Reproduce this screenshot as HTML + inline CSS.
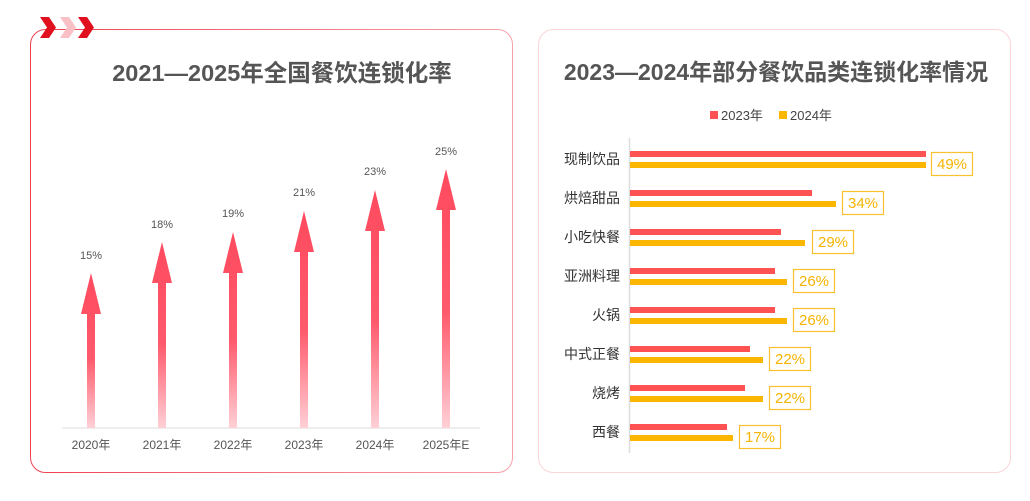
<!DOCTYPE html>
<html><head><meta charset="utf-8"><style>
html,body{margin:0;padding:0;background:#fff;width:1030px;height:501px;overflow:hidden}
text{font-family:"Liberation Sans","Noto Sans CJK SC",sans-serif}
</style></head><body>
<svg width="1030" height="501" viewBox="0 0 1030 501" xmlns="http://www.w3.org/2000/svg">
<defs>
<linearGradient id="g" x1="0" y1="0" x2="0" y2="1">
<stop offset="0" stop-color="#ff4a5e"/><stop offset="0.55" stop-color="#ff5a6c"/><stop offset="1" stop-color="#ffd0d6"/>
</linearGradient>
<linearGradient id="b1" x1="0" y1="0" x2="1" y2="0"><stop offset="0" stop-color="#f04050"/><stop offset="1" stop-color="#f7a0a8"/></linearGradient>
</defs>
<rect x="30.5" y="29.5" width="482" height="443" rx="15" fill="#fff" stroke="url(#b1)" stroke-width="1"/>
<g fill="#e0101e">
<polygon points="40,17 49,17 56,27.5 49,38 40,38 47,27.5"/>
<polygon points="60,17 69,17 76,27.5 69,38 60,38 67,27.5" fill="#f9c0c6"/>
<polygon points="78,17 87,17 94,27.5 87,38 78,38 85,27.5"/>
</g>
<text x="282" y="81" font-size="23.5" font-weight="bold" fill="#555" text-anchor="middle">2021—2025年全国餐饮连锁化率</text>
<line x1="62" y1="428" x2="480" y2="428" stroke="#ddd" stroke-width="1"/>
<g fill="url(#g)">
<g transform="translate(91,0)"><polygon points="0,273 10,314 4,314 4,428 -4,428 -4,314 -10,314"/></g>
<g transform="translate(162,0)"><polygon points="0,242 10,283 4,283 4,428 -4,428 -4,283 -10,283"/></g>
<g transform="translate(233,0)"><polygon points="0,232 10,273 4,273 4,428 -4,428 -4,273 -10,273"/></g>
<g transform="translate(304,0)"><polygon points="0,211 10,252 4,252 4,428 -4,428 -4,252 -10,252"/></g>
<g transform="translate(375,0)"><polygon points="0,190 10,231 4,231 4,428 -4,428 -4,231 -10,231"/></g>
<g transform="translate(446,0)"><polygon points="0,169 10,210 4,210 4,428 -4,428 -4,210 -10,210"/></g>
</g>
<g font-size="11" fill="#555" text-anchor="middle" font-family="Liberation Mono">
<text x="91" y="259">15%</text><text x="162" y="228">18%</text><text x="233" y="217">19%</text>
<text x="304" y="196">21%</text><text x="375" y="175">23%</text><text x="446" y="155">25%</text>
</g>
<g font-size="12" fill="#555" text-anchor="middle">
<text x="91" y="449">2020年</text><text x="162" y="449">2021年</text><text x="233" y="449">2022年</text>
<text x="304" y="449">2023年</text><text x="375" y="449">2024年</text><text x="446" y="449">2025年E</text>
</g>
<rect x="538.5" y="29.5" width="472" height="443" rx="15" fill="#fff" stroke="#fbd5d8" stroke-width="1"/>
<text x="776" y="80" font-size="23" font-weight="bold" fill="#555" text-anchor="middle">2023—2024年部分餐饮品类连锁化率情况</text>
<rect x="710" y="111" width="8" height="8" fill="#ff5252"/>
<text x="721" y="120" font-size="13" fill="#444">2023年</text>
<rect x="779" y="111" width="8" height="8" fill="#fbb600"/>
<text x="790" y="120" font-size="13" fill="#444">2024年</text>
<line x1="629.5" y1="138" x2="629.5" y2="453" stroke="#ddd" stroke-width="1.5"/>
<g font-size="14" fill="#333" text-anchor="end">
<text x="620" y="164">现制饮品</text><text x="620" y="203">烘焙甜品</text><text x="620" y="242">小吃快餐</text>
<text x="620" y="281">亚洲料理</text><text x="620" y="320">火锅</text><text x="620" y="359">中式正餐</text>
<text x="620" y="398">烧烤</text><text x="620" y="437">西餐</text>
</g>
<g fill="#ff5252">
<rect x="630" y="151" width="296" height="6"/><rect x="630" y="190" width="182" height="6"/>
<rect x="630" y="229" width="151" height="6"/><rect x="630" y="268" width="145" height="6"/>
<rect x="630" y="307" width="145" height="6"/><rect x="630" y="346" width="120" height="6"/>
<rect x="630" y="385" width="115" height="6"/><rect x="630" y="424" width="97" height="6"/>
</g>
<g fill="#fbb600">
<rect x="630" y="162" width="296" height="6"/><rect x="630" y="201" width="206" height="6"/>
<rect x="630" y="240" width="175" height="6"/><rect x="630" y="279" width="157" height="6"/>
<rect x="630" y="318" width="157" height="6"/><rect x="630" y="357" width="133" height="6"/>
<rect x="630" y="396" width="133" height="6"/><rect x="630" y="435" width="103" height="6"/>
</g>
<g fill="#fff" stroke="#fbc02d" stroke-width="1.2">
<rect x="931.5" y="152.5" width="41" height="23"/><rect x="842.5" y="191.5" width="41" height="23"/>
<rect x="812.5" y="230.5" width="41" height="23"/><rect x="793.5" y="269.5" width="41" height="23"/>
<rect x="793.5" y="308.5" width="41" height="23"/><rect x="769.5" y="347.5" width="41" height="23"/>
<rect x="769.5" y="386.5" width="41" height="23"/><rect x="739.5" y="425.5" width="41" height="23"/>
</g>
<g font-size="15" fill="#f5b400" text-anchor="middle">
<text x="952" y="169">49%</text><text x="863" y="208">34%</text><text x="833" y="247">29%</text>
<text x="814" y="286">26%</text><text x="814" y="325">26%</text><text x="790" y="364">22%</text>
<text x="790" y="403">22%</text><text x="760" y="442">17%</text>
</g>
</svg>
</body></html>
